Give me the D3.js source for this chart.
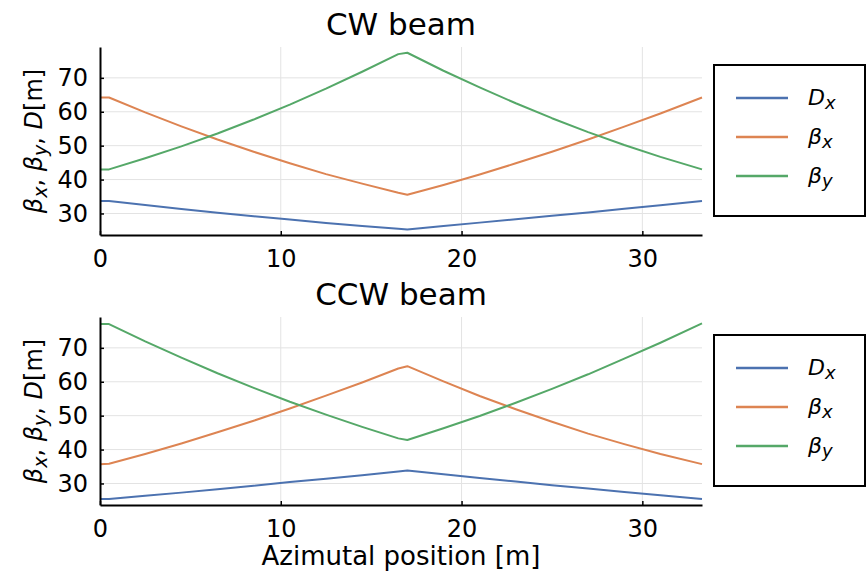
<!DOCTYPE html>
<html>
<head>
<meta charset="utf-8">
<script src="https://cdn.jsdelivr.net/npm/d3@7/dist/d3.min.js"></script>
<style>
  body { margin: 0; background: #fff; }
  text { font-family: "DejaVu Sans", sans-serif; fill: #000; }
</style>
</head>
<body>
<div id="chart"></div>
<script>
// Azimutal position along the cell [m]
var position = [0, 0.5, 2.5, 4.5, 6.5, 8.5, 10.5, 12.5, 14.5, 16.5, 17, 19, 21, 23, 25, 27, 29, 31, 33.3];

// CW beam
var cwDx    = [33.7, 33.7, 32.5, 31.3, 30.2, 29.2, 28.2, 27.2, 26.3, 25.5, 25.3, 26.3, 27.3, 28.3, 29.3, 30.3, 31.4, 32.4, 33.7];
var cwBetaX = [64.2, 64.2, 59.8, 55.7, 51.8, 48.2, 44.8, 41.6, 38.8, 36.1, 35.5, 38.4, 41.5, 44.8, 48.2, 51.8, 55.6, 59.5, 64.2];
var cwBetaY = [43.0, 43.0, 46.3, 49.8, 53.6, 57.7, 62.1, 66.8, 71.8, 77.0, 77.4, 72.1, 67.2, 62.5, 58.1, 54.0, 50.2, 46.7, 43.0];

// CCW beam
var ccwDx    = [25.4, 25.4, 26.4, 27.3, 28.3, 29.3, 30.4, 31.4, 32.4, 33.5, 33.8, 32.7, 31.6, 30.6, 29.5, 28.5, 27.5, 26.5, 25.4];
var ccwBetaX = [35.7, 35.8, 38.7, 41.8, 45.1, 48.5, 52.1, 55.9, 59.8, 63.9, 64.6, 60.1, 55.8, 51.9, 48.2, 44.7, 41.6, 38.7, 35.7];
var ccwBetaY = [77.0, 77.0, 71.9, 67.1, 62.5, 58.2, 54.1, 50.3, 46.7, 43.3, 42.8, 46.3, 49.9, 53.8, 57.9, 62.2, 66.8, 71.5, 77.2];

var xTicks = [0, 10, 20, 30];
var yTicks = [30, 40, 50, 60, 70];
var seriesMain = ["D", "\u03b2", "\u03b2"];
var seriesSub  = ["x", "x", "y"];
var colors = ["#4c72b0", "#dd8452", "#55a868"];

var panels = [
  { title: "CW beam",  top: 47,  series: [cwDx, cwBetaX, cwBetaY] },
  { title: "CCW beam", top: 317, series: [ccwDx, ccwBetaX, ccwBetaY] }
];

// Sizes
var svgWidth = 867;
var svgHeight = 571;
var plotLeft = 100;
var plotRight = 702;
var plotHeight = 188;

var svg = d3.select("#chart").append("svg")
            .attr("width", svgWidth)
            .attr("height", svgHeight);

var x = d3.scaleLinear().domain([0, 33.3]).range([plotLeft, plotRight]);

panels.forEach(function(p) {
  var y = d3.scaleLinear().domain([23.65, 79.1]).range([p.top + plotHeight, p.top]);
  var g = svg.append("g");

  // Grid
  g.selectAll(".vgrid").data(xTicks.slice(1)).enter().append("line")
   .attr("x1", function(d) { return x(d); }).attr("x2", function(d) { return x(d); })
   .attr("y1", p.top).attr("y2", p.top + plotHeight)
   .attr("stroke", "#e3e3e3").attr("stroke-width", 1);
  g.selectAll(".hgrid").data(yTicks).enter().append("line")
   .attr("x1", plotLeft).attr("x2", plotRight)
   .attr("y1", function(d) { return y(d); }).attr("y2", function(d) { return y(d); })
   .attr("stroke", "#e3e3e3").attr("stroke-width", 1);

  // Lines
  var line = d3.line()
               .x(function(d, i) { return x(position[i]); })
               .y(function(d) { return y(d); });
  p.series.forEach(function(s, k) {
    g.append("path").datum(s)
     .attr("d", line)
     .attr("fill", "none")
     .attr("stroke", colors[k])
     .attr("stroke-width", 2)
     .attr("stroke-linejoin", "round");
  });

  // Axes
  var xAxis = g.append("g")
               .attr("transform", "translate(0," + (p.top + plotHeight) + ")")
               .call(d3.axisBottom(x).tickValues(xTicks).tickSizeInner(-4).tickSizeOuter(0).tickPadding(12));
  var yAxis = g.append("g")
               .attr("transform", "translate(" + plotLeft + ",0)")
               .call(d3.axisLeft(y).tickValues(yTicks).tickSizeInner(-4).tickSizeOuter(0).tickPadding(12));
  [xAxis, yAxis].forEach(function(a) {
    a.select(".domain").attr("stroke", "#000").attr("stroke-width", 2);
    a.selectAll(".tick line").attr("stroke", "#000").attr("stroke-width", 1.5);
    a.selectAll(".tick text").attr("font-size", "24px").attr("font-family", "DejaVu Sans");
  });
  xAxis.selectAll(".tick text").attr("dy", "0.85em");

  // Title
  g.append("text")
   .attr("x", (plotLeft + plotRight) / 2)
   .attr("y", p.top - 12)
   .attr("text-anchor", "middle")
   .attr("font-size", "31px")
   .text(p.title);

  // Y label
  var yl = g.append("text")
            .attr("transform", "translate(42," + (p.top + plotHeight / 2) + ") rotate(-90)")
            .attr("text-anchor", "middle")
            .attr("font-size", "24px");
  yl.append("tspan").attr("font-style", "italic").text("\u03b2");
  yl.append("tspan").attr("font-style", "italic").attr("font-size", "19px").attr("dy", 5).text("x");
  yl.append("tspan").attr("dy", -5).text(", ");
  yl.append("tspan").attr("font-style", "italic").text("\u03b2");
  yl.append("tspan").attr("font-style", "italic").attr("font-size", "19px").attr("dy", 5).text("y");
  yl.append("tspan").attr("dy", -5).text(", ");
  yl.append("tspan").attr("font-style", "italic").text("D");
  yl.append("tspan").text("[m]");

  // Legend
  var legTop = p.top + 18;
  g.append("rect")
   .attr("x", 714).attr("y", legTop)
   .attr("width", 151).attr("height", 151)
   .attr("fill", "#fff").attr("stroke", "#000").attr("stroke-width", 2);
  colors.forEach(function(c, k) {
    var ry = legTop + 33 + k * 39;
    g.append("line")
     .attr("x1", 736).attr("x2", 788)
     .attr("y1", ry).attr("y2", ry)
     .attr("stroke", c).attr("stroke-width", 2.5);
    var t = g.append("text").attr("x", 808).attr("y", ry + 7).attr("font-size", "22px").attr("font-style", "italic");
    t.append("tspan").text(seriesMain[k]);
    t.append("tspan").attr("font-size", "18px").attr("dy", 4).text(seriesSub[k]);
  });
});

// X label
svg.append("text")
   .attr("x", (plotLeft + plotRight) / 2)
   .attr("y", 565)
   .attr("text-anchor", "middle")
   .attr("font-size", "26px")
   .text("Azimutal position [m]");
</script>
</body>
</html>
